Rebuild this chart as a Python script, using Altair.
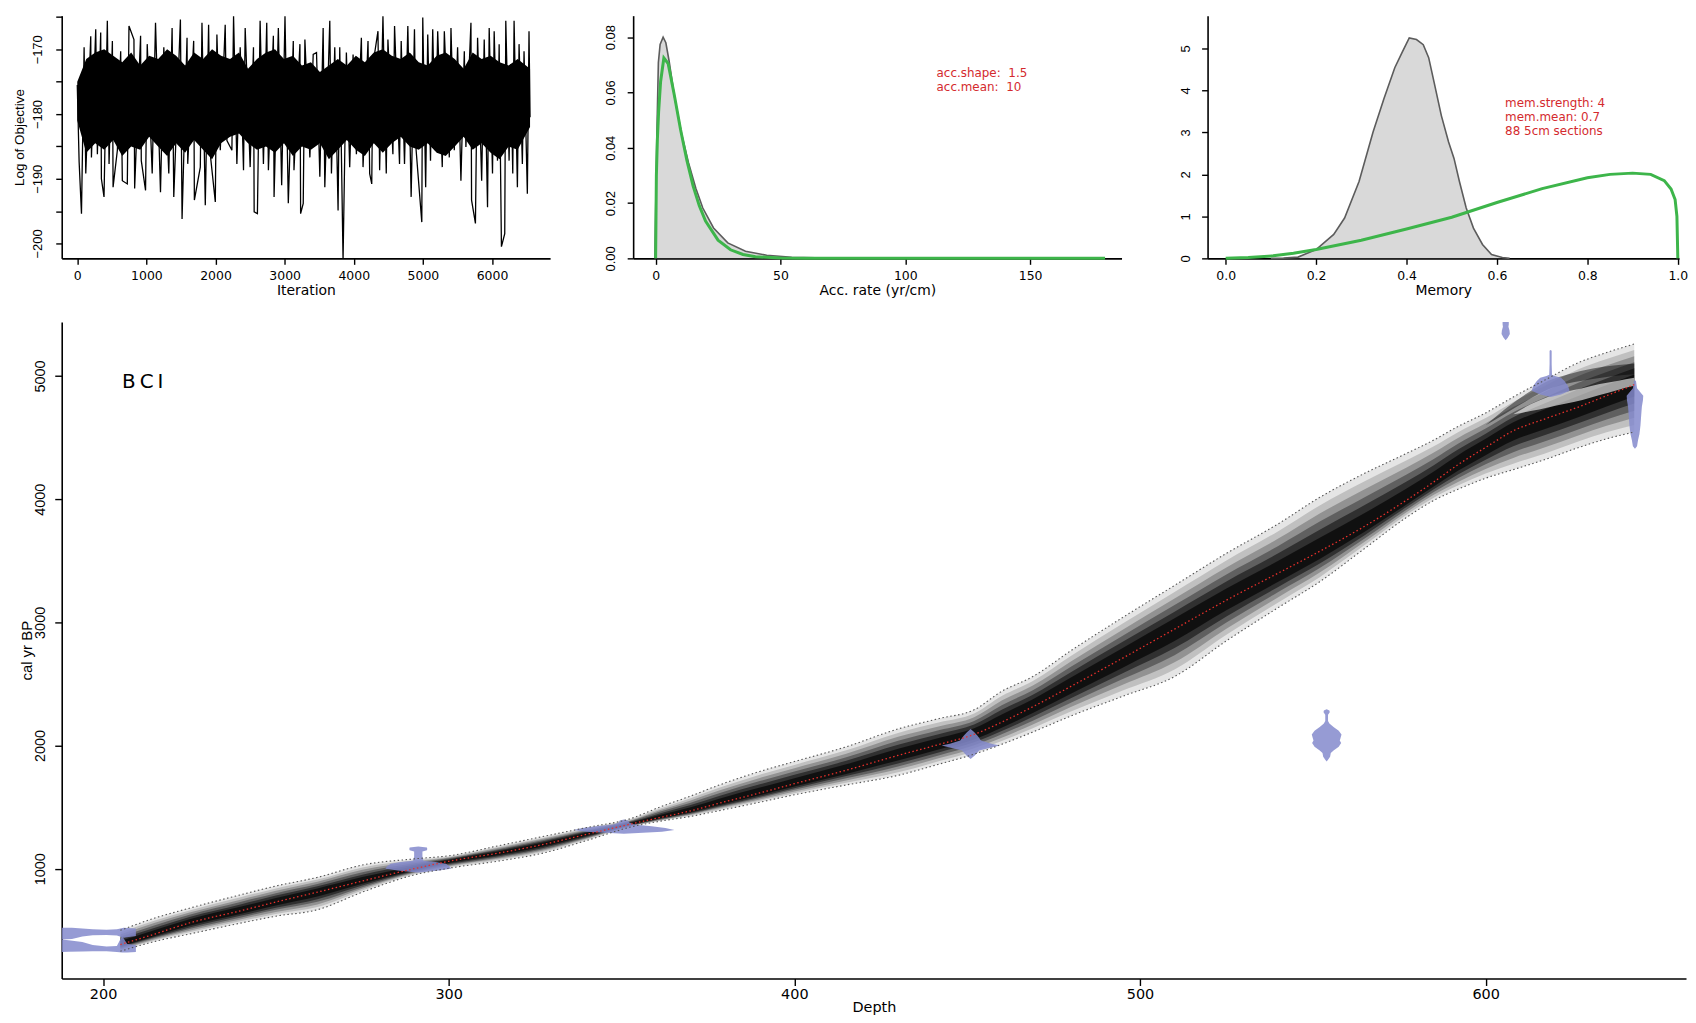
import altair as alt
import pandas as pd

FONT = "Liberation Sans"
WIDE = "DejaVu Sans"
RED_TXT = "#d42a2e"
GREEN = "#3db54a"
BLUE = "#8489cc"

# ---------------- Panel 1: log objective trace (read peaks / troughs) ----------------
trace_highs = [(0, -175.5), (99, -169.7), (195, -168.0), (267, -166.9), (339, -167.4), (435, -165.6),
               (508, -168.7), (628, -170.3), (748, -166.4), (820, -168.5), (916, -167.9), (1012, -169.2),
               (1132, -165.9), (1252, -169.7), (1372, -166.7), (1492, -165.4), (1588, -168.2), (1684, -168.7),
               (1804, -165.9), (1900, -166.2), (2020, -167.7), (2140, -166.2), (2261, -164.9), (2357, -169.7),
               (2429, -166.7), (2549, -169.7), (2645, -165.6), (2741, -165.9), (2837, -167.9), (2909, -166.7),
               (3005, -164.9), (3125, -168.7), (3221, -169.2), (3293, -168.5), (3413, -170.8), (3461, -170.5),
               (3557, -166.7), (3653, -165.6), (3725, -169.7), (3797, -169.7), (3893, -170.5), (3990, -170.8),
               (4110, -168.2), (4206, -168.7), (4278, -172.3), (4350, -167.2), (4422, -164.9), (4494, -168.5),
               (4590, -166.4), (4686, -168.7), (4782, -166.4), (4878, -166.9), (4998, -165.1), (5070, -167.7),
               (5142, -166.9), (5214, -167.2), (5310, -167.2), (5406, -166.7), (5502, -169.7), (5599, -170.3),
               (5695, -165.9), (5791, -168.2), (5887, -168.5), (5959, -166.7), (6031, -167.2), (6103, -169.2),
               (6199, -165.6), (6271, -172.3), (6319, -165.6), (6391, -169.2), (6463, -170.3), (6535, -167.2)]
trace_lows = [(27, -187.4), (61, -195.4), (123, -189.2), (205, -186.7), (291, -186.2), (349, -190.0),
              (387, -192.8), (460, -187.7), (518, -191.3), (580, -185.6), (652, -190.3), (724, -190.8),
              (830, -191.5), (926, -187.2), (988, -191.8), (1084, -189.2), (1204, -192.1), (1324, -189.2),
              (1396, -192.8), (1516, -196.2), (1598, -187.7), (1694, -193.3), (1780, -188.2), (1852, -194.1),
              (1924, -186.2), (1997, -193.6), (2069, -185.6), (2165, -184.1), (2237, -185.6), (2309, -187.7),
              (2405, -188.7), (2501, -188.2), (2559, -195.1), (2606, -195.4), (2693, -187.7), (2765, -188.7),
              (2847, -192.8), (2957, -191.0), (3053, -193.8), (3135, -188.7), (3231, -195.4), (3269, -193.8),
              (3365, -186.7), (3509, -189.7), (3581, -191.3), (3677, -189.2), (3773, -194.9), (3845, -202.5),
              (3941, -188.2), (4038, -186.2), (4134, -188.2), (4230, -189.2), (4260, -190.8), (4374, -188.7),
              (4470, -189.2), (4566, -186.2), (4662, -187.7), (4734, -187.7), (4830, -192.8), (4902, -185.6),
              (4984, -196.7), (5040, -191.3), (5110, -187.2), (5180, -185.6), (5280, -188.2), (5382, -186.7),
              (5454, -185.6), (5550, -190.3), (5622, -185.1), (5704, -193.3), (5760, -196.9), (5850, -190.3),
              (5935, -194.4), (6007, -189.2), (6079, -187.2), (6136, -200.5), (6184, -198.5), (6247, -187.2),
              (6300, -189.2), (6367, -191.3), (6439, -187.7), (6511, -192.3), (6550, -180.5)]
# solid body of the trace: (iteration, upper edge, lower edge)
trace_core = [(0, -175, -181), (130, -171.5, -186), (260, -170.5, -184.5), (390, -170, -185.5), (520, -171, -184),
              (650, -172, -186.5), (780, -170.5, -185), (910, -172.5, -185.5), (1040, -171, -183.5), (1170, -171.5, -185),
              (1300, -170, -186.5), (1430, -171, -184.5), (1560, -172.5, -186), (1690, -170.5, -184), (1820, -171.5, -185.5),
              (1950, -170, -187), (2080, -171, -184.5), (2210, -171.5, -183.5), (2340, -170.5, -183), (2470, -173, -184.5),
              (2600, -171.5, -185.5), (2730, -170.5, -185), (2860, -170, -186), (2990, -171.5, -184.5), (3120, -171, -186.5),
              (3250, -172.5, -185), (3380, -172, -185.5), (3510, -173.5, -184.5), (3640, -172.5, -187), (3770, -171.5, -185.5),
              (3900, -172.5, -184), (4030, -171, -185.5), (4160, -172, -186.5), (4290, -170.5, -184.5), (4420, -170, -186),
              (4550, -171, -184.5), (4680, -171.5, -183.5), (4810, -170.5, -185), (4940, -172, -185.5), (5070, -172.5, -184.5),
              (5200, -171, -186), (5330, -170.5, -186.5), (5460, -171.5, -185), (5590, -173, -183.5), (5720, -170.5, -185.5),
              (5850, -171.5, -184.5), (5980, -171, -186), (6110, -172, -187), (6240, -172.5, -185), (6370, -171.5, -185.5),
              (6550, -173, -182)]
iter_ticks = [0, 1000, 2000, 3000, 4000, 5000, 6000]
obj_ticks = [-200, -195, -190, -185, -180, -175, -170, -165]

# ---------------- Panel 2: accumulation rate ----------------
acc_post_x = [-0.3, 0.5, 1.1, 1.8, 3.0, 4.1, 5.4, 7.5, 10.4, 13.2, 16.1, 18.9, 23.2, 28.9, 36.0, 44.5, 54.5, 68.7, 90]
acc_post_y = [0, 0.045, 0.0708, 0.0774, 0.080, 0.078, 0.0714, 0.0588, 0.0450, 0.0345, 0.0254, 0.0182, 0.0110,
              0.0056, 0.0026, 0.0011, 0.0004, 0.0001, 0]
acc_prior_x = [0, 0.3, 0.7, 1.2, 2, 3.3, 5, 7.5, 10, 12.5, 15, 17.5, 20, 25, 30, 35, 40, 50, 60, 80, 180]
acc_prior_y = [0, 0.030, 0.043, 0.053, 0.064, 0.0725, 0.0705, 0.0590, 0.0465, 0.0355, 0.0262, 0.0190, 0.0135,
               0.0066, 0.0031, 0.0014, 0.0006, 0.0001, 0.00002, 0, 0]
acc_ticks_x = [0, 50, 100, 150]
acc_ticks_y = [0, 0.02, 0.04, 0.06, 0.08]
acc_text = ["acc.shape:\u00a0 1.5", "acc.mean:\u00a0 10"]
acc_text_x = [112.5, 112.5]
acc_text_y = [0.0672, 0.0620]

# ---------------- Panel 3: memory ----------------
mem_post_x = [0.10, 0.128, 0.16, 0.20, 0.239, 0.263, 0.295, 0.326, 0.35, 0.374, 0.39, 0.406, 0.422, 0.437,
              0.449, 0.461, 0.477, 0.493, 0.505, 0.517, 0.532, 0.548, 0.568, 0.588, 0.612, 0.628]
mem_post_y = [0, 0.005, 0.03, 0.21, 0.57, 0.96, 1.83, 3.01, 3.80, 4.54, 4.90, 5.25, 5.21, 5.09, 4.78, 4.19,
              3.40, 2.77, 2.38, 1.83, 1.20, 0.72, 0.33, 0.09, 0.02, 0]
mem_prior_x = [0, 0.05, 0.105, 0.15, 0.2, 0.3, 0.4, 0.5, 0.6, 0.7, 0.8, 0.85, 0.9, 0.94, 0.97, 0.985, 0.994, 0.998, 1.0]
mem_prior_y = [0, 0.02, 0.06, 0.12, 0.21, 0.43, 0.70, 0.98, 1.33, 1.66, 1.92, 2.00, 2.03, 2.00, 1.85, 1.65, 1.40, 1.0, 0]
mem_ticks_x = [0, 0.2, 0.4, 0.6, 0.8, 1.0]
mem_ticks_y = [0, 1, 2, 3, 4, 5]
mem_text = ["mem.strength: 4", "mem.mean: 0.7", "88 5cm sections"]
mem_text_x = [0.618, 0.618, 0.618]
mem_text_y = [3.70, 3.36, 3.03]

# ---------------- Main panel: age-depth model ----------------
band_depth = [205, 215, 225, 240, 250, 262, 275, 290, 300, 315, 327, 340, 353, 361, 370, 378, 390, 400, 415,
              430, 442, 452, 460, 469, 480, 495, 510, 525, 540, 552, 565, 577, 585, 592, 600, 608, 617, 627, 635, 643]
band_mean = [385, 470, 560, 660, 730, 810, 900, 1000, 1060, 1130, 1195, 1280, 1365, 1415, 1470, 1530, 1615, 1690,
             1800, 1920, 2010, 2090, 2190, 2315, 2480, 2710, 2945, 3180, 3400, 3577, 3780, 3990, 4140, 4280, 4420,
             4555, 4650, 4750, 4840, 4930]
band_hi = [500, 600, 680, 790, 860, 930, 1030, 1080, 1105, 1190, 1260, 1335, 1410, 1500, 1590, 1677, 1790, 1870,
           1990, 2135, 2220, 2290, 2440, 2560, 2770, 3040, 3300, 3560, 3800, 4015, 4210, 4370, 4480, 4590, 4700,
           4830, 4965, 5110, 5190, 5260]
band_lo = [330, 410, 470, 560, 615, 667, 810, 950, 1004, 1065, 1125, 1230, 1341, 1385, 1425, 1470, 1540, 1600,
           1680, 1758, 1850, 1930, 2010, 2110, 2240, 2400, 2560, 2850, 3120, 3330, 3600, 3850, 3990, 4080, 4170,
           4240, 4320, 4420, 4490, 4545]
# bimodal part near the base: dark upper branch and a pale gap above the mean
branch_depth = [600, 606, 612, 618, 624, 631, 637, 643]
branch_lo = [4600, 4700, 4800, 4890, 4940, 4975, 5000, 5015]
branch_hi = [4600, 4740, 4860, 4960, 5015, 5060, 5085, 5100]
gap_depth = [608, 613, 618, 623, 628, 633, 638, 643]
gap_lo = [4690, 4715, 4745, 4775, 4805, 4845, 4885, 4920]
gap_hi = [4690, 4770, 4830, 4870, 4900, 4935, 4960, 4985]

# calibrated dates drawn symmetric about their depth: age and half-width (cm)
date_depth = {"d291": 291.2, "d351": 350.7, "d451": 451.0, "d554": 554.0, "d606": 605.8, "d619": 618.8, "d643": 643.2}
date_age = {
    "d291": [970, 985, 1000, 1020, 1040, 1055, 1065, 1100, 1140, 1150, 1160, 1172, 1180],
    "d351": [1285, 1300, 1315, 1330, 1345, 1360, 1375, 1392, 1400],
    "d451": [1890, 1920, 1960, 1985, 2000, 2015, 2040, 2080, 2110, 2135],
    "d554": [1870, 1885, 1910, 1940, 1960, 1990, 2020, 2040, 2060, 2090, 2120, 2150, 2180, 2200, 2250, 2270, 2285, 2295],
    "d606": [5290, 5310, 5340, 5370, 5400, 5420, 5445],
    "d619": [4830, 4850, 4880, 4920, 4960, 4985, 5000, 5010, 5100, 5205, 5210],
    "d643": [4410, 4430, 4480, 4530, 4600, 4680, 4750, 4800, 4840, 4870, 4900, 4960, 4965],
}
date_halfwidth = {
    "d291": [0.5, 6, 9.5, 9, 8, 5, 1.5, 1.2, 1.2, 2.5, 2.6, 2.5, 0],
    "d351": [0, 11, 14.6, 12, 8, 3, 1.5, 1.2, 0],
    "d451": [0, 1.2, 2.5, 6, 8.4, 6, 3, 2, 1, 0],
    "d554": [0, 0.4, 1.0, 1.2, 2.0, 3.5, 4.2, 3.8, 4.0, 4.3, 3.5, 2.0, 0.8, 0.4, 0.4, 0.9, 0.8, 0],
    "d606": [0, 0.6, 1.2, 1.1, 0.8, 0.9, 0.9],
    "d619": [0, 3, 5.5, 5, 4, 3, 1.2, 0.4, 0.3, 0.3, 0],
    "d643": [0, 0.6, 0.9, 1.3, 1.6, 1.8, 2.0, 2.3, 2.4, 1.5, 0.6, 0.3, 0],
}
# the two lobes of the top date (cut by the axis)
lobe_up_depth = [188, 191, 194, 197, 201, 204, 206, 209.5]
lobe_up_lo = [425, 430, 450, 460, 462, 458, 440, 455]
lobe_up_hi = [522, 522, 515, 508, 505, 508, 520, 515]
lobe_dn_depth = [188, 190, 194, 197, 201, 204, 205.5, 207, 209.5]
lobe_dn_lo = [325, 326, 328, 330, 330, 325, 320, 320, 324]
lobe_dn_hi = [425, 420, 405, 380, 368, 372, 455, 390, 380]

depth_ticks = [200, 300, 400, 500, 600]
age_ticks = [1000, 2000, 3000, 4000, 5000]


def axis(values, title, label_size=13, title_size=14, tick=6, label_pad=6, title_pad=2, label_font=FONT,
         title_font=FONT, vertical=False, extent=None, fmt=None, label_expr=None):
    kw = dict(values=values, grid=False, domainColor="black", domainWidth=1.6, tickColor="black",
              tickWidth=1.4, tickSize=tick, labelFont=label_font, labelFontSize=label_size, labelColor="black",
              titleFont=title_font, titleFontSize=title_size, titleColor="black", titleFontWeight="normal",
              labelPadding=label_pad, titlePadding=title_pad, labelOverlap=False)
    kw["title"] = title
    if fmt:
        kw["format"] = fmt
    if label_expr:
        kw["labelExpr"] = label_expr
    if vertical:
        kw.update(labelAngle=270, labelAlign="center", labelBaseline="bottom")
    if extent is not None:
        kw.update(minExtent=extent, maxExtent=extent)
    return alt.Axis(**kw)


TOP_H = 244

# ---- panel 1
sx1 = alt.Scale(domain=[-225, 6840], nice=False, zero=False)
sy1 = alt.Scale(domain=[-202.3, -164.8], nice=False, zero=False)
ax1x = axis(iter_ticks, "Iteration", label_size=12.5, label_font=WIDE, title_font=WIDE, label_pad=5,
            title_pad=1.5, fmt="d")
ax1y = axis(obj_ticks, "Log of Objective", label_size=13, title_size=13.5, label_pad=11, title_pad=5,
            vertical=True, extent=30, fmt="d", label_expr="datum.value % 10 == 0 ? datum.label : ''")
trace_df = pd.DataFrame(trace_highs + trace_lows, columns=["iter", "val"]).sort_values("iter")
core_df = pd.DataFrame(trace_core, columns=["iter", "top", "bottom"])
p1_core = alt.Chart(core_df).mark_area(color="black").encode(
    x=alt.X("iter:Q", scale=sx1, axis=ax1x), y=alt.Y("top:Q", scale=sy1, axis=ax1y), y2="bottom:Q")
p1_line = alt.Chart(trace_df).mark_line(color="black", strokeWidth=1.3, clip=True).encode(
    x=alt.X("iter:Q", scale=sx1, axis=ax1x), y=alt.Y("val:Q", scale=sy1, axis=ax1y))
p1 = alt.layer(p1_core, p1_line).properties(width=491, height=TOP_H)

# ---- panel 2
sx2 = alt.Scale(domain=[-9, 186.6], nice=False, zero=False)
sy2 = alt.Scale(domain=[0, 0.0878], nice=False, zero=False)
ax2x = axis(acc_ticks_x, "Acc. rate (yr/cm)", label_size=12.5, label_font=WIDE, title_font=WIDE, label_pad=5,
            title_pad=1.5, fmt="d")
ax2y = axis(acc_ticks_y, None, label_size=13, label_pad=10, vertical=True, fmt=".2f")
acc_post = pd.DataFrame({"x": acc_post_x, "y": acc_post_y})
acc_prior = pd.DataFrame({"x": acc_prior_x, "y": acc_prior_y})
acc_lab = pd.DataFrame({"x": acc_text_x, "y": acc_text_y, "t": acc_text})
p2_area = alt.Chart(acc_post).mark_area(fill="#c9c9c9", line={"color": "#5c5c5c", "strokeWidth": 1.6}).encode(
    x=alt.X("x:Q", scale=sx2, axis=ax2x), y=alt.Y("y:Q", scale=sy2, axis=ax2y))
p2_line = alt.Chart(acc_prior).mark_line(color=GREEN, strokeWidth=3).encode(
    x=alt.X("x:Q", scale=sx2, axis=ax2x), y=alt.Y("y:Q", scale=sy2, axis=ax2y))
p2_text = alt.Chart(acc_lab).mark_text(align="left", baseline="middle", color=RED_TXT, font=WIDE, fontSize=12).encode(
    x=alt.X("x:Q", scale=sx2, axis=ax2x), y=alt.Y("y:Q", scale=sy2, axis=ax2y), text="t:N")
p2 = alt.layer(p2_area, p2_line, p2_text).properties(width=491, height=TOP_H)

# ---- panel 3
sx3 = alt.Scale(domain=[-0.04, 1.0027], nice=False, zero=False)
sy3 = alt.Scale(domain=[0, 5.78], nice=False, zero=False)
ax3x = axis(mem_ticks_x, "Memory", label_size=12.5, label_font=WIDE, title_font=WIDE, label_pad=5,
            title_pad=1.5, fmt=".1f")
ax3y = axis(mem_ticks_y, " ", label_size=13, title_size=4.5, label_pad=9, title_pad=0, vertical=True, fmt="d")
mem_post = pd.DataFrame({"x": mem_post_x, "y": mem_post_y})
mem_prior = pd.DataFrame({"x": mem_prior_x, "y": mem_prior_y})
mem_lab = pd.DataFrame({"x": mem_text_x, "y": mem_text_y, "t": mem_text})
p3_area = alt.Chart(mem_post).mark_area(fill="#c9c9c9", line={"color": "#5c5c5c", "strokeWidth": 1.6}).encode(
    x=alt.X("x:Q", scale=sx3, axis=ax3x), y=alt.Y("y:Q", scale=sy3, axis=ax3y))
p3_line = alt.Chart(mem_prior).mark_line(color=GREEN, strokeWidth=3).encode(
    x=alt.X("x:Q", scale=sx3, axis=ax3x), y=alt.Y("y:Q", scale=sy3, axis=ax3y))
p3_text = alt.Chart(mem_lab).mark_text(align="left", baseline="middle", color=RED_TXT, font=WIDE, fontSize=12).encode(
    x=alt.X("x:Q", scale=sx3, axis=ax3x), y=alt.Y("y:Q", scale=sy3, axis=ax3y), text="t:N")
p3 = alt.layer(p3_area, p3_line, p3_text).properties(width=474, height=TOP_H)

# ---- main panel
sxm = alt.Scale(domain=[188.04, 657.97], nice=False, zero=False)
sym = alt.Scale(domain=[109, 5438], nice=False, zero=False)
axmx = axis(depth_ticks, "Depth", label_size=14.5, title_size=14.5, label_font=WIDE, title_font=WIDE, tick=7,
            label_pad=2, title_pad=0, fmt="d")
axmy = axis(age_ticks, "cal yr BP", label_size=14.5, title_size=15, tick=7, label_pad=7.5, title_pad=0,
            vertical=True, extent=27, fmt="d")


def mx(field):
    return alt.X(field, scale=sxm, axis=axmx)


def my(field):
    return alt.Y(field, scale=sym, axis=axmy)


band = pd.DataFrame({"depth": band_depth, "mean": band_mean, "lo": band_lo, "hi": band_hi})

layers = []
shade_levels = [(1.0, 0.10), (0.85, 0.16), (0.7, 0.24), (0.55, 0.34), (0.4, 0.5), (0.25, 0.65)]
for s, op in shade_levels:
    layers.append(
        alt.Chart(band).transform_calculate(
            l=f"datum.mean - {s} * (datum.mean - datum.lo)",
            h=f"datum.mean + {s} * (datum.hi - datum.mean)",
        ).mark_area(color="black", opacity=op, interpolate="monotone", clip=True).encode(
            x=mx("depth:Q"), y=my("l:Q"), y2="h:Q")
    )
branch = pd.DataFrame({"depth": branch_depth, "lo": branch_lo, "hi": branch_hi})
layers.append(
    alt.Chart(branch).mark_area(color="black", opacity=0.45, interpolate="monotone", clip=True).encode(
        x=mx("depth:Q"), y=my("lo:Q"), y2="hi:Q")
)
gap = pd.DataFrame({"depth": gap_depth, "lo": gap_lo, "hi": gap_hi})
layers.append(
    alt.Chart(gap).mark_area(color="white", opacity=0.6, interpolate="monotone", clip=True).encode(
        x=mx("depth:Q"), y=my("lo:Q"), y2="hi:Q")
)

rows = []
for k in date_depth:
    for a, w in zip(date_age[k], date_halfwidth[k]):
        rows.append({"id": k, "age": a, "left": date_depth[k] - w, "right": date_depth[k] + w})
dates = pd.DataFrame(rows)
layers.append(
    alt.Chart(dates).mark_area(orient="horizontal", color=BLUE, opacity=0.85, clip=True).encode(
        y=my("age:Q"), x=mx("left:Q"), x2="right:Q", detail="id:N")
)
lobes = pd.concat([
    pd.DataFrame({"id": "up", "depth": lobe_up_depth, "lo": lobe_up_lo, "hi": lobe_up_hi}),
    pd.DataFrame({"id": "dn", "depth": lobe_dn_depth, "lo": lobe_dn_lo, "hi": lobe_dn_hi}),
])
layers.append(
    alt.Chart(lobes).mark_area(color=BLUE, opacity=0.85, clip=True).encode(
        x=mx("depth:Q"), y=my("lo:Q"), y2="hi:Q", detail="id:N")
)
for fld in ["lo", "hi"]:
    layers.append(
        alt.Chart(band).mark_line(color="#555555", strokeWidth=1.1, strokeDash=[1.5, 2.5], interpolate="monotone",
                                  clip=True).encode(x=mx("depth:Q"), y=my(f"{fld}:Q"))
    )
layers.append(
    alt.Chart(band).mark_line(color="#e8302a", strokeWidth=1.3, strokeDash=[1.5, 2.5], interpolate="monotone",
                              clip=True).encode(x=mx("depth:Q"), y=my("mean:Q"))
)
site = pd.DataFrame({"depth": [205.5], "age": [4954], "t": ["B\u2009C\u2009I"]})
layers.append(
    alt.Chart(site).mark_text(align="left", baseline="middle", font=WIDE, fontSize=20, color="black").encode(
        x=mx("depth:Q"), y=my("age:Q"), text="t:N")
)
main = alt.layer(*layers).properties(width=1633, height=660)

top = alt.hconcat(p1, p2, p3, spacing=53.5)
chart = alt.vconcat(top, main, spacing=25).properties(
    padding={"left": 5, "top": 5, "right": 0, "bottom": 0}
).configure_view(strokeWidth=0)

chart.save("out.html", embed_options={"renderer": "svg", "actions": False})
